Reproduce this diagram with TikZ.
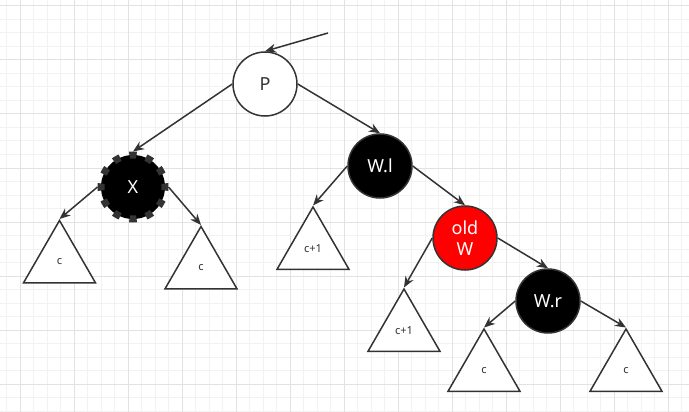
\documentclass[tikz,border=0pt]{standalone}
\usepackage{fontspec}
\setmainfont{Noto Sans}
\usepackage{xcolor}
\usepackage{tikz}
\usetikzlibrary{shapes.geometric,arrows.meta}
\definecolor{edgegray}{HTML}{333333}
\definecolor{gridmin}{HTML}{F2F2F2}
\definecolor{gridmaj}{HTML}{E2E2E2}

\begin{document}
\begin{tikzpicture}[
        x=1pt, y=-1pt,
        rbnode/.style={circle, draw=edgegray, line width=1.5pt, minimum size=64pt, inner sep=0pt, text=white, align=center, font=\fontsize{18}{21}\selectfont},
        subtree/.style={regular polygon, regular polygon sides=3, draw=edgegray, line width=1.5pt, fill=white, minimum size=83pt, inner sep=0pt, text=edgegray, font=\fontsize{11}{13}\selectfont},
        link/.style={-{Stealth[length=11pt,width=9pt]}, line width=1.5pt, draw=edgegray}
    ]
        \useasboundingbox (0,0) rectangle (689,412);
        % Fondo cuadriculado
        \fill[white] (0,0) rectangle (689,412);
        \foreach \i in {0,...,50} \draw[gridmin, line width=1pt] ({6.5+13.5*\i},0) -- ({6.5+13.5*\i},412);
        \foreach \i in {0,...,30} \draw[gridmin, line width=1pt] (0,{6+13.5*\i}) -- (689,{6+13.5*\i});
        \foreach \i in {0,...,12} \draw[gridmaj, line width=1pt] ({20+54*\i},0) -- ({20+54*\i},412);
        \foreach \i in {0,...,7} \draw[gridmaj, line width=1pt] (0,{6+54*\i}) -- (689,{6+54*\i});

        \coordinate (entry) at (328,33);
        \node [rbnode, fill=white, text=edgegray] (p) at (265,84) {P};
        \node [rbnode, fill=black, line width=7pt, dash pattern=on 7pt off 9.755pt, dash phase=3.5pt] (x) at (133,187) {X};
        \node [rbnode, fill=black] (wl) at (380,166) {W.l};
        \node [rbnode, fill=red] (oldw) at (465,238) {old\\W};
        \node [rbnode, fill=black] (wr) at (548,301) {W.r};

        \node [subtree] (t1) at (59.5,262) {c};
        \node [subtree] (t2) at (201,268) {c};
        \node [subtree] (t3) at (313,248.5) {c+1};
        \node [subtree] (t4) at (404,330.5) {c+1};
        \node [subtree] (t5) at (484,370.5) {c};
        \node [subtree] (t6) at (626,370.5) {c};

        \draw[link] (entry) -- (p.north);
        \draw[link] (p.west) -- (x.north);
        \draw[link] (p.east) -- (wl.north);
        \draw[link] (x.west) -- (t1.north);
        \draw[link] (x.east) -- (t2.north);
        \draw[link] (wl.west) -- (t3.north);
        \draw[link] (wl.east) -- (oldw.north);
        \draw[link] (oldw.west) -- (t4.north);
        \draw[link] (oldw.east) -- (wr.north);
        \draw[link] (wr.west) -- (t5.north);
        \draw[link] (wr.east) -- (t6.north);
    \end{tikzpicture}
\end{document}
